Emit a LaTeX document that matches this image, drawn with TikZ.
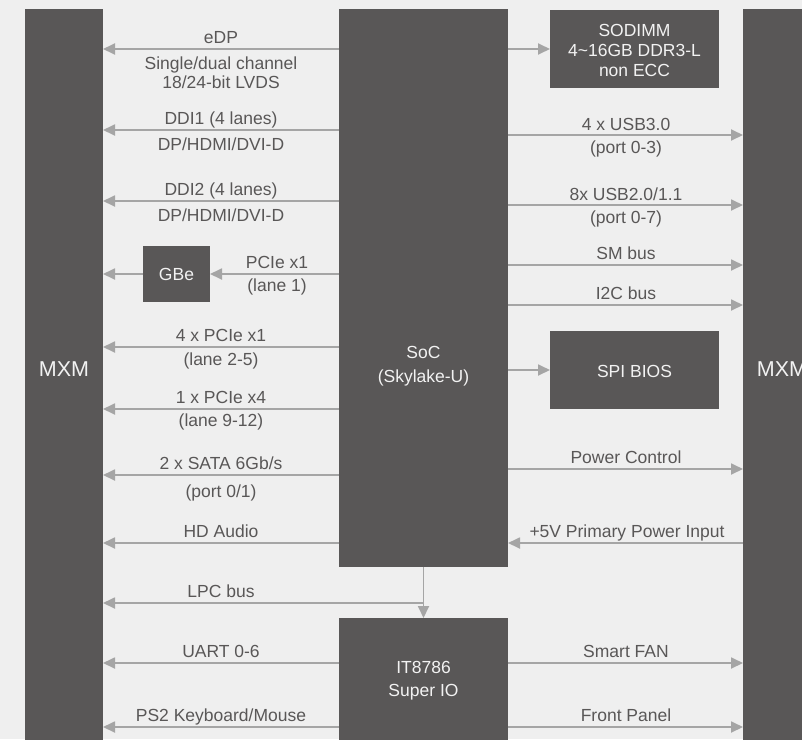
\documentclass[tikz,border=0pt]{standalone}
\usepackage{fontspec}
\setmainfont{Liberation Sans}
\usetikzlibrary{arrows.meta}
\definecolor{bg}{HTML}{EFEFEF}
\definecolor{boxc}{HTML}{595757}
\definecolor{arrc}{HTML}{A5A5A5}
\definecolor{txtc}{HTML}{595757}
\definecolor{boxt}{HTML}{F2F2F2}
\begin{document}
\begin{tikzpicture}[x=1pt,y=-1pt,
  blk/.style={fill=boxc, draw=none, inner sep=0pt, outer sep=0pt, anchor=north west},
  lbl/.style={anchor=base, text=txtc, inner sep=0pt, font=\fontsize{17.5}{20}\selectfont},
  btxt/.style={anchor=base, text=boxt, inner sep=0pt, font=\fontsize{17.5}{20}\selectfont},
  bigtxt/.style={anchor=base, text=boxt, inner sep=0pt, font=\fontsize{21.5}{24}\selectfont},
  arr/.style={draw=arrc, line width=1.8pt, -{Triangle[length=12pt,width=11pt]}}
]
\fill[bg] (0,0) rectangle (802,739);
\clip (0,0) rectangle (802,739);
% blocks
\node[blk, minimum width=78pt, minimum height=740pt] (mxmL) at (25,9) {};
\node[blk, minimum width=78pt, minimum height=740pt] (mxmR) at (743,9) {};
\node[blk, minimum width=169pt, minimum height=558pt] (soc) at (339,9) {};
\node[blk, minimum width=169pt, minimum height=130pt] (sio) at (339,618) {};
\node[blk, minimum width=169pt, minimum height=78pt] (sodimm) at (550,10) {};
\node[blk, minimum width=67pt, minimum height=56pt] (gbe) at (143,246) {};
\node[blk, minimum width=169pt, minimum height=78pt] (spi) at (550,331) {};
% block texts
\node[bigtxt] (mxmLt) at (64,376) {MXM};
\node[bigtxt] (mxmRt) at (782,376) {MXM};
\node[btxt] (soct1) at (423.5,358) {SoC};
\node[btxt] (soct2) at (423.5,382) {(Skylake-U)};
\node[btxt] (siot1) at (423.5,673) {IT8786};
\node[btxt] (siot2) at (423.5,696) {Super IO};
\node[btxt] (sodt1) at (634.5,36) {SODIMM};
\node[btxt] (sodt2) at (634.5,56) {4\textasciitilde16GB DDR3-L};
\node[btxt] (sodt3) at (634.5,76) {non ECC};
\node[btxt] (gbet) at (176.5,280) {GBe};
\node[btxt] (spit) at (634.5,377) {SPI BIOS};
% left connectors
\draw[arr] (soc.west |- 0,49) -- (mxmL.east |- 0,49);
\draw[arr] (soc.west |- 0,130) -- (mxmL.east |- 0,130);
\draw[arr] (soc.west |- 0,201) -- (mxmL.east |- 0,201);
\draw[arr] (soc.west |- gbe.east) -- (gbe.east);
\draw[arr] (gbe.west) -- (mxmL.east |- gbe.west);
\draw[arr] (soc.west |- 0,347) -- (mxmL.east |- 0,347);
\draw[arr] (soc.west |- 0,409) -- (mxmL.east |- 0,409);
\draw[arr] (soc.west |- 0,475) -- (mxmL.east |- 0,475);
\draw[arr] (soc.west |- 0,543) -- (mxmL.east |- 0,543);
\draw[arr] (soc.south) -- (sio.north);
\coordinate (lpcj) at (soc.south |- 0,603);
\draw[arr] (lpcj) -- (mxmL.east |- lpcj);
\draw[arr] (sio.west |- 0,663) -- (mxmL.east |- 0,663);
\draw[arr] (sio.west |- 0,727) -- (mxmL.east |- 0,727);
% right connectors
\draw[arr] (soc.east |- 0,49) -- (sodimm.west |- 0,49);
\draw[arr] (soc.east |- 0,135) -- (mxmR.west |- 0,135);
\draw[arr] (soc.east |- 0,205) -- (mxmR.west |- 0,205);
\draw[arr] (soc.east |- 0,265) -- (mxmR.west |- 0,265);
\draw[arr] (soc.east |- 0,305) -- (mxmR.west |- 0,305);
\draw[arr] (soc.east |- spi.west) -- (spi.west);
\draw[arr] (soc.east |- 0,469) -- (mxmR.west |- 0,469);
\draw[arr] (mxmR.west |- 0,543) -- (soc.east |- 0,543);
\draw[arr] (sio.east |- 0,663) -- (mxmR.west |- 0,663);
\draw[arr] (sio.east |- 0,727) -- (mxmR.west |- 0,727);
% left labels
\node[lbl] (l1a) at (221,43) {eDP};
\node[lbl] (l1b) at (221,69) {Single/dual channel};
\node[lbl] (l1c) at (221,88) {18/24-bit LVDS};
\node[lbl] (l2a) at (221,124) {DDI1 (4 lanes)};
\node[lbl] (l2b) at (221,150) {DP/HDMI/DVI-D};
\node[lbl] (l3a) at (221,195) {DDI2 (4 lanes)};
\node[lbl] (l3b) at (221,221) {DP/HDMI/DVI-D};
\node[lbl] (l4a) at (277,268) {PCIe x1};
\node[lbl] (l4b) at (277,291) {(lane 1)};
\node[lbl] (l5a) at (221,341) {4 x PCIe x1};
\node[lbl] (l5b) at (221,365) {(lane 2-5)};
\node[lbl] (l6a) at (221,403) {1 x PCIe x4};
\node[lbl] (l6b) at (221,426) {(lane 9-12)};
\node[lbl] (l7a) at (221,469) {2 x SATA 6Gb/s};
\node[lbl] (l7b) at (221,497) {(port 0/1)};
\node[lbl] (l8) at (221,537) {HD Audio};
\node[lbl] (l9) at (221,597) {LPC bus};
\node[lbl] (l10) at (221,657) {UART 0-6};
\node[lbl] (l11) at (221,721) {PS2 Keyboard/Mouse};
% right labels
\node[lbl] (r1a) at (626,130) {4 x USB3.0};
\node[lbl] (r1b) at (626,153) {(port 0-3)};
\node[lbl] (r2a) at (626,200) {8x USB2.0/1.1};
\node[lbl] (r2b) at (626,223) {(port 0-7)};
\node[lbl] (r3) at (626,259) {SM bus};
\node[lbl] (r4) at (626,299) {I2C bus};
\node[lbl] (r5) at (626,463) {Power Control};
\node[lbl] (r6) at (627,537) {+5V Primary Power Input};
\node[lbl] (r7) at (626,657) {Smart FAN};
\node[lbl] (r8) at (626,721) {Front Panel};
\end{tikzpicture}
\end{document}
